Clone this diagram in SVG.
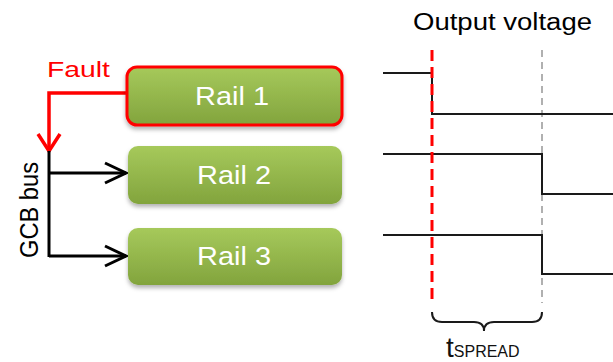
<svg xmlns="http://www.w3.org/2000/svg" width="613" height="362" viewBox="0 0 613 362">
  <defs>
    <linearGradient id="railFill" x1="0" y1="0" x2="0" y2="1">
      <stop offset="0" stop-color="#a6c95b"/>
      <stop offset="1" stop-color="#82a43d"/>
    </linearGradient>
    <filter id="shadow" x="-10%" y="-20%" width="120%" height="150%">
      <feDropShadow dx="0" dy="3" stdDeviation="2" flood-color="#000" flood-opacity="0.3"/>
    </filter>
    <marker id="openBlack" markerUnits="userSpaceOnUse" markerWidth="26" markerHeight="26" viewBox="-23 -13 26 26" refX="0" refY="0" orient="auto">
      <path d="M-21,-10 L0,0 L-21,10" fill="none" stroke="#000" stroke-width="3"/>
    </marker>
    <marker id="openRed" markerUnits="userSpaceOnUse" markerWidth="26" markerHeight="28" viewBox="-20 -14 24 28" refX="0" refY="0" orient="auto">
      <path d="M-17,-11 L0,0 L-17,11" fill="none" stroke="#ff0000" stroke-width="3.5"/>
    </marker>
  </defs>
  <style>
    .rail { fill: url(#railFill); filter: url(#shadow); }
    .railText { font-family: "Liberation Sans", Arial, sans-serif; font-size: 26px; fill: #ffffff; text-anchor: middle; }
    .label { font-family: "Liberation Sans", Arial, sans-serif; }
    .wave { fill: none; stroke: #1a1a1a; stroke-width: 2; }
  </style>

  <rect width="613" height="362" fill="#ffffff"/>

  <!-- connectors -->
  <g id="connectors">
    <!-- fault path from Rail 1 down onto the bus -->
    <polyline points="127,93 49,93 49,151" fill="none" stroke="#ff0000" stroke-width="3.5" marker-end="url(#openRed)"/>
    <!-- GCB bus -->
    <line x1="49" y1="151" x2="49" y2="257" stroke="#000" stroke-width="3"/>
    <line x1="49" y1="173" x2="126" y2="173" stroke="#000" stroke-width="3" marker-end="url(#openBlack)"/>
    <line x1="49" y1="256" x2="126" y2="256" stroke="#000" stroke-width="3" marker-end="url(#openBlack)"/>
  </g>

  <text class="label" x="47" y="77" font-size="22" fill="#ff0000" textLength="63" lengthAdjust="spacingAndGlyphs">Fault</text>
  <text class="label" transform="translate(38,258) rotate(-90)" font-size="25" fill="#000" textLength="96" lengthAdjust="spacingAndGlyphs">GCB bus</text>

  <!-- rails -->
  <g id="rail1">
    <rect class="rail" x="127" y="67" width="215" height="58" rx="10" stroke="#ff0000" stroke-width="3"/>
    <text class="railText" x="232" y="105" textLength="74" lengthAdjust="spacingAndGlyphs">Rail 1</text>
  </g>
  <g id="rail2">
    <rect class="rail" x="128" y="146" width="214" height="58" rx="10"/>
    <text class="railText" x="234" y="184" textLength="74" lengthAdjust="spacingAndGlyphs">Rail 2</text>
  </g>
  <g id="rail3">
    <rect class="rail" x="128" y="228" width="214" height="57" rx="10"/>
    <text class="railText" x="234" y="265" textLength="74" lengthAdjust="spacingAndGlyphs">Rail 3</text>
  </g>

  <!-- output voltage timing -->
  <g id="timing">
    <text class="label" x="413" y="30" font-size="23" fill="#000" textLength="179" lengthAdjust="spacingAndGlyphs">Output voltage</text>
    <line x1="542" y1="50" x2="542" y2="303" stroke="#b0b0b0" stroke-width="2" stroke-dasharray="7,5"/>
    <polyline class="wave" points="383,73 432,73 432,114 613,114"/>
    <polyline class="wave" points="383,154 542,154 542,194 613,194"/>
    <polyline class="wave" points="383,235 542,235 542,274 613,274"/>
    <line x1="432" y1="50" x2="432" y2="304" stroke="#ff0000" stroke-width="3" stroke-dasharray="11,6"/>
    <!-- spread brace -->
    <path d="M432,312 Q432,322 442,322 L474,322 Q484,322 484,331 Q484,322 494,322 L532,322 Q542,322 542,312" fill="none" stroke="#1a1a1a" stroke-width="2"/>
    <text class="label" x="446" y="357" fill="#111"><tspan font-size="28">t</tspan><tspan font-size="16">SPREAD</tspan></text>
  </g>
</svg>
